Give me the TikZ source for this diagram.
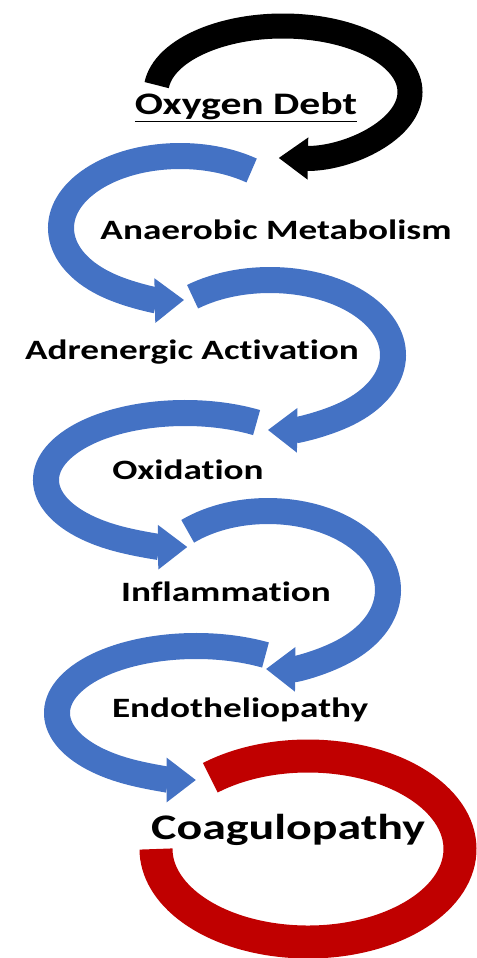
\documentclass[tikz,border=0pt]{standalone}
\usepackage{fontspec}
\usetikzlibrary{arrows.meta}
\newfontfamily\lblfont{Carlito}[FakeStretch=1.33,Ligatures=NoCommon]
\definecolor{bandblue}{RGB}{68,114,196}
\definecolor{bandred}{RGB}{192,0,0}

\begin{document}
\begin{tikzpicture}[x=0.75pt,y=0.75pt,yscale=-1,xscale=1,
	bluearc/.style={draw=bandblue,line width=19.5pt,-{Triangle[width=32pt,length=22pt]}},
	lbl/.style={anchor=center,inner sep=0.75pt,font=\lblfont\bfseries\fontsize{21}{25}\selectfont}]
		\useasboundingbox (0,0) rectangle (477,958);
		
		%Shape: Arc [id:oxygen]
		\draw [line width=18.75pt,-{Triangle[width=30pt,length=22pt]}] (283,92) ++(186:127 and 66) arc[start angle=186,end angle=452,x radius=127,y radius=66] ;
		%Shape: Arc [id:anaerobic]
		\draw [bluearc] (180,228) ++(307:119 and 72) arc[start angle=307,end angle=88,x radius=119,y radius=72] ;
		%Shape: Arc [id:adrenergic]
		\draw [bluearc] (270,355) ++(231:123 and 75) arc[start angle=231,end angle=451,x radius=123,y radius=75] ;
		%Shape: Arc [id:oxidation]
		\draw [bluearc] (185,480) ++(301:139 and 67) arc[start angle=301,end angle=89,x radius=139,y radius=67] ;
		%Shape: Arc [id:inflammation]
		\draw [bluearc] (268,590) ++(228:120 and 79) arc[start angle=228,end angle=451,x radius=120,y radius=79] ;
		%Shape: Arc [id:endothelio]
		\draw [bluearc] (196,713) ++(300:139 and 67) arc[start angle=300,end angle=90,x radius=139,y radius=67] ;
		%Shape: Arc [id:coagulo]
		\draw [draw=bandred,line width=24.75pt] (308,849) ++(230:152 and 93) arc[start angle=230,end angle=540,x radius=152,y radius=93] ;
		
		% Text Node
		\node (debt) [lbl,font=\lblfont\bfseries\fontsize{23.5}{28}\selectfont] at (246,107) {\underline{Oxygen Debt}};
		% Text Node
		\node (anaer) [lbl] at (276,230) {Anaerobic Metabolism};
		% Text Node
		\node (adren) [lbl] at (192,352) {Adrenergic Activation};
		% Text Node
		\node (oxid) [lbl] at (188,470) {Oxidation};
		% Text Node
		\node (infl) [lbl] at (226,592) {Inflammation};
		% Text Node
		\node (endo) [lbl] at (240,710) {Endotheliopathy};
		% Text Node
		\node (coag) [lbl,font=\lblfont\bfseries\fontsize{27}{32}\selectfont] at (288,830) {Coagulopathy};
		
\end{tikzpicture}
\end{document}
